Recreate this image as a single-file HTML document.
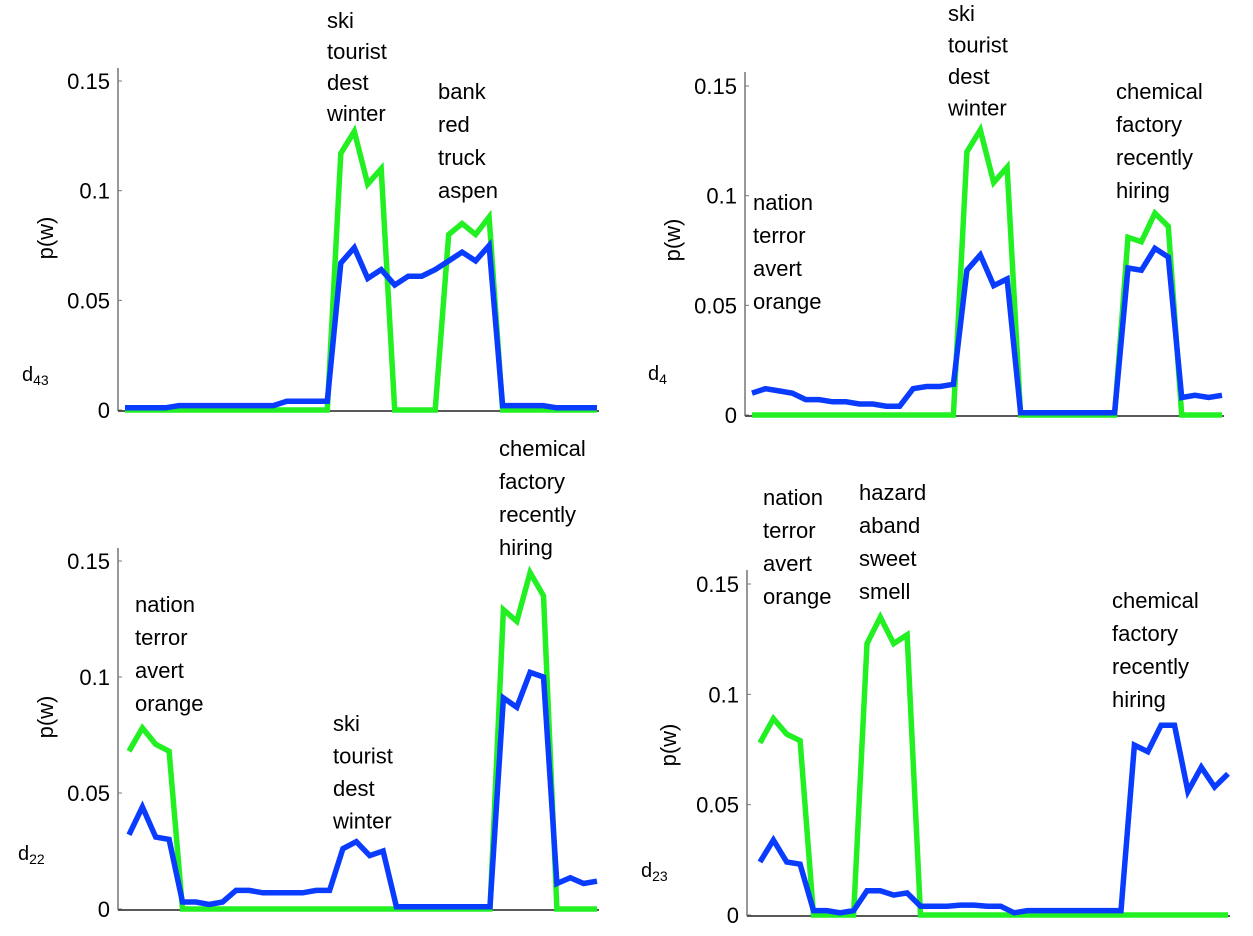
<!DOCTYPE html>
<html><head><meta charset="utf-8"><style>
body{margin:0;background:#fff;}
svg{display:block;font-family:"Liberation Sans","DejaVu Sans",sans-serif;}
text{fill:#000;}
</style></head><body>
<svg id="c" width="1253" height="936" viewBox="0 0 1253 936"></svg>
<script>
const tickVals=[0,0.05,0.1,0.15];
const tickLabels=["0","0.05","0.1","0.15"];
const p1Green=[0,0,0,0,0,0,0,0,0,0,0,0,0,0,0,0,0.117,0.127,0.103,0.110,0,0,0,0,0.080,0.085,0.080,0.088,0,0,0,0,0,0,0,0];
const p1Blue=[0.001,0.001,0.001,0.001,0.002,0.002,0.002,0.002,0.002,0.002,0.002,0.002,0.004,0.004,0.004,0.004,0.067,0.074,0.060,0.064,0.057,0.061,0.061,0.064,0.068,0.072,0.068,0.075,0.002,0.002,0.002,0.002,0.001,0.001,0.001,0.001];
const p2Green=[0,0,0,0,0,0,0,0,0,0,0,0,0,0,0,0,0.120,0.130,0.106,0.113,0,0,0,0,0,0,0,0,0.081,0.079,0.092,0.086,0,0,0,0];
const p2Blue=[0.010,0.012,0.011,0.010,0.007,0.007,0.006,0.006,0.005,0.005,0.004,0.004,0.012,0.013,0.013,0.014,0.066,0.073,0.059,0.062,0.001,0.001,0.001,0.001,0.001,0.001,0.001,0.001,0.067,0.066,0.076,0.072,0.008,0.009,0.008,0.009];
const p3Green=[0.068,0.078,0.071,0.068,0,0,0,0,0,0,0,0,0,0,0,0,0,0,0,0,0,0,0,0,0,0,0,0,0.129,0.124,0.145,0.135,0,0,0,0];
const p3Blue=[0.032,0.044,0.031,0.030,0.003,0.003,0.002,0.003,0.008,0.008,0.007,0.007,0.007,0.007,0.008,0.008,0.026,0.029,0.023,0.025,0.001,0.001,0.001,0.001,0.001,0.001,0.001,0.001,0.091,0.087,0.102,0.100,0.011,0.0135,0.011,0.012];
const p4Green=[0.078,0.089,0.082,0.079,0,0,0,0,0.123,0.135,0.123,0.127,0,0,0,0,0,0,0,0,0,0,0,0,0,0,0,0,0,0,0,0,0,0,0,0];
const p4Blue=[0.024,0.034,0.024,0.023,0.002,0.002,0.001,0.002,0.011,0.011,0.009,0.010,0.004,0.004,0.004,0.0045,0.0045,0.004,0.004,0.001,0.002,0.002,0.002,0.002,0.002,0.002,0.002,0.002,0.077,0.074,0.086,0.086,0.056,0.067,0.058,0.064];

const panels=[
 {id:"d43",sub:"43",ax:118,x0:125,x1:597,zero:410,top15:81,ytop:68,dlx:22,dly:381,pwx:45,pwy:238,green:p1Green,blue:p1Blue,
  notes:[{x:327,y:20,w:["ski","tourist","dest","winter"],s:31},{x:438,y:91,w:["bank","red","truck","aspen"],s:33}]},
 {id:"d4",sub:"4",ax:745,x0:752,x1:1222,zero:415,top15:86,ytop:72,dlx:648,dly:380,pwx:672,pwy:240,green:p2Green,blue:p2Blue,
  notes:[{x:948,y:13,w:["ski","tourist","dest","winter"],s:31.5},{x:1116,y:91,w:["chemical","factory","recently","hiring"],s:33},{x:753,y:202,w:["nation","terror","avert","orange"],s:33}]},
 {id:"d22",sub:"22",ax:118,x0:129,x1:597,zero:909,top15:561,ytop:548,dlx:18,dly:860,pwx:45,pwy:717,green:p3Green,blue:p3Blue,
  notes:[{x:135,y:604,w:["nation","terror","avert","orange"],s:33},{x:333,y:723,w:["ski","tourist","dest","winter"],s:32.5},{x:499,y:448,w:["chemical","factory","recently","hiring"],s:33}]},
 {id:"d23",sub:"23",ax:747,x0:760,x1:1228,zero:915,top15:584,ytop:570,dlx:641,dly:877,pwx:668,pwy:745,green:p4Green,blue:p4Blue,
  notes:[{x:763,y:497,w:["nation","terror","avert","orange"],s:33},{x:859,y:492,w:["hazard","aband","sweet","smell"],s:33},{x:1112,y:600,w:["chemical","factory","recently","hiring"],s:33}]}
];
const svg=document.getElementById('c');
const NS="http://www.w3.org/2000/svg";
function mk(tag,attrs,parent){const e=document.createElementNS(NS,tag);for(const k in attrs)e.setAttribute(k,attrs[k]);parent.appendChild(e);return e;}
panels.forEach((p,pi)=>{
 const g=mk('g',{},svg);
 
 
 const yS=v=>p.zero-(v/0.15)*(p.zero-p.top15);
 const n=p.blue.length;
 const xS=i=>p.x0+i*(p.x1-p.x0)/(n-1);
 const yl=mk('line',{x1:p.ax,y1:p.ytop,x2:p.ax,y2:p.zero+1,stroke:'#777','stroke-width':1.5},g);
 
 
 const xl=mk('line',{x1:p.ax,y1:p.zero+1,x2:p.x1+2,y2:p.zero+1,stroke:'#222','stroke-width':1.5},g);
 
 
 tickVals.forEach((v,k)=>{
  const y=yS(v);
  const tm=mk('line',{x1:p.ax,y1:y,x2:p.ax+4,y2:y,stroke:'#777','stroke-width':1},g);
  
  
  const t=mk('text',{x:p.ax-8,y:y+8,'text-anchor':'end','font-size':22},g);
  t.textContent=tickLabels[k];
  
  
 });
 const pw=mk('text',{x:0,y:0,'text-anchor':'middle','font-size':22,transform:`translate(${p.pwx+8},${p.pwy}) rotate(-90)`},g);
 pw.textContent='p(w)';
 
 
 const dl=mk('text',{x:p.dlx,y:p.dly,'font-size':20},g);
 
 
 const t1=mk('tspan',{},dl);t1.textContent='d';
 const t2=mk('tspan',{'font-size':14,dy:4},dl);t2.textContent=p.sub;
 [[p.green,'#22f022','green-series'],[p.blue,'#0a3cff','blue-series']].forEach(([arr,col,name])=>{
  const pts=arr.map((v,i)=>xS(i).toFixed(1)+','+yS(v).toFixed(1)).join(' ');
  const pl=mk('polyline',{points:pts,fill:'none',stroke:col,'stroke-width':5.5,'stroke-linejoin':'miter'},g);
  
  
 });
 p.notes.forEach(nt=>{
  const t=mk('text',{'font-size':22},g);
  
  
  nt.w.forEach((w,k)=>{const s=mk('tspan',{x:nt.x,y:nt.y+8+k*nt.s},t);s.textContent=w;});
 });
});
</script>
</body></html>
